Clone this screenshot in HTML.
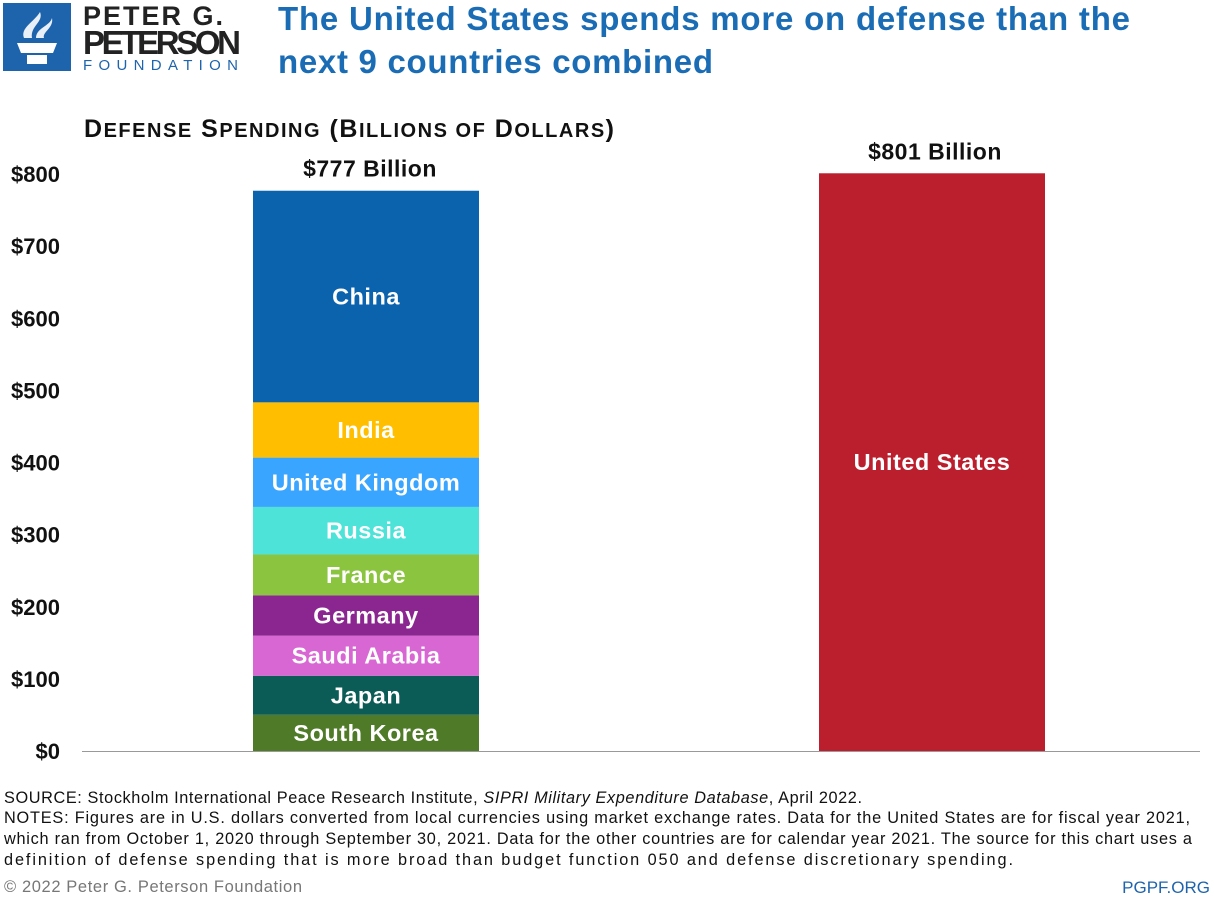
<!DOCTYPE html>
<html><head><meta charset="utf-8"><style>
body{margin:0;background:#fff;width:1214px;height:904px;overflow:hidden;font-family:"Liberation Sans",sans-serif}
svg{position:absolute;left:0;top:0}
</style></head><body>
<svg id="c" width="1214" height="904">
<g>
<rect x="3" y="3" width="68" height="68" fill="#1e64ad"/>
<path d="M17 43 H57 L53 53 H21 Z M27 55 H47 V64 H27 Z" fill="#fff"/>
<path d="M24 38 C20 28 34 22 40 12 C44 22 30 26 32 38 Z M36 38 C36 28 50 26 52 18 C54 28 42 32 44 38 Z" fill="#fff" opacity="0.9"/>
<text x="83" y="25" font-size="27" font-weight="bold" fill="#222" textLength="140">PETER G.</text>
<text x="83" y="54" font-size="33" font-weight="bold" fill="#222" textLength="158">PETERSON</text>
<text x="83" y="70" font-size="15" fill="#1e64ad" textLength="158" letter-spacing="3">FOUNDATION</text>
</g>
<text x="278" y="30" font-size="33" font-weight="bold" fill="#1a6db5" textLength="852">The United States spends more on defense than the</text>
<text x="278" y="73" font-size="33" font-weight="bold" fill="#1a6db5" textLength="435">next 9 countries combined</text>
<text x="84" y="137" font-size="25" font-weight="bold" fill="#111" textLength="530">D<tspan font-size="20">EFENSE</tspan> S<tspan font-size="20">PENDING</tspan> (B<tspan font-size="20">ILLIONS OF</tspan> D<tspan font-size="20">OLLARS</tspan>)</text>
<g id="axis"></g><g id="bars"></g>
<g font-size="16.3" fill="#111">
<text x="4" y="803" textLength="858">SOURCE: Stockholm International Peace Research Institute, <tspan font-style="italic">SIPRI Military Expenditure Database</tspan>, April 2022.</text>
<text x="4" y="823" textLength="1186">NOTES: Figures are in U.S. dollars converted from local currencies using market exchange rates. Data for the United States are for fiscal year 2021,</text>
<text x="4" y="844" textLength="1188">which ran from October 1, 2020 through September 30, 2021. Data for the other countries are for calendar year 2021. The source for this chart uses a</text>
<text x="4" y="865" textLength="1009">definition of defense spending that is more broad than budget function 050 and defense discretionary spending.</text>
</g>
<text x="4" y="892" font-size="16.5" fill="#777" textLength="298">© 2022 Peter G. Peterson Foundation</text>
<text x="1210" y="893" font-size="17" fill="#1e64ad" text-anchor="end">PGPF.ORG</text>
</svg>
<script>
const countries=["South Korea","Japan","Saudi Arabia","Germany","France","Russia","United Kingdom","India","China"];
const values=[50.2,54.1,55.6,56.0,56.6,65.9,68.4,76.6,293.4];
const colors=["#4f7a28","#0b5b56","#d866d3","#8b2590","#8bc43f","#4de3d8","#3aa5ff","#ffbf00","#0c63ad"];
const usValue=[801];
const ticks=[0,100,200,300,400,500,600,700,800];
const ns="http://www.w3.org/2000/svg";
const y=v=>751-v*577/800;
function mk(t,a,p){const e=document.createElementNS(ns,t);for(const k in a)e.setAttribute(k,a[k]);p.appendChild(e);return e;}
const ax=document.getElementById('axis'),bs=document.getElementById('bars');
ticks.forEach(t=>{const e=mk('text',{x:60,y:y(t)+8,'font-size':22,'font-weight':'bold','text-anchor':'end',fill:'#111'},ax);e.textContent='$'+t;

});
const base=mk('line',{x1:82,x2:1200,y1:751.5,y2:751.5,stroke:'#999','stroke-width':1},ax);


let cum=0;
values.forEach((v,i)=>{const y0=y(cum),y1=y(cum+v);
const r=mk('rect',{x:253,y:y1,width:226,height:y0-y1,fill:colors[i]},bs);


const t=mk('text',{x:366,y:(y0+y1)/2+8,'font-size':23.5,'font-weight':'bold','text-anchor':'middle',fill:'#fff','letter-spacing':0.5},bs);t.textContent=countries[i];


cum+=v;});
const tot=mk('text',{x:370,y:y(cum)-14,'font-size':23,'font-weight':'bold','text-anchor':'middle',fill:'#111','letter-spacing':0.5},bs);tot.textContent='$'+Math.round(cum)+' Billion';


const us=mk('rect',{x:819,y:y(usValue[0]),width:226,height:y(0)-y(usValue[0]),fill:'#bb1f2e'},bs);


const ul=mk('text',{x:932,y:(y(0)+y(usValue[0]))/2+8,'font-size':23.5,'font-weight':'bold','text-anchor':'middle',fill:'#fff','letter-spacing':0.5},bs);ul.textContent='United States';


const ut=mk('text',{x:935,y:y(usValue[0])-14,'font-size':23,'font-weight':'bold','text-anchor':'middle',fill:'#111','letter-spacing':0.5},bs);ut.textContent='$'+usValue[0]+' Billion';


</script>
</body></html>
